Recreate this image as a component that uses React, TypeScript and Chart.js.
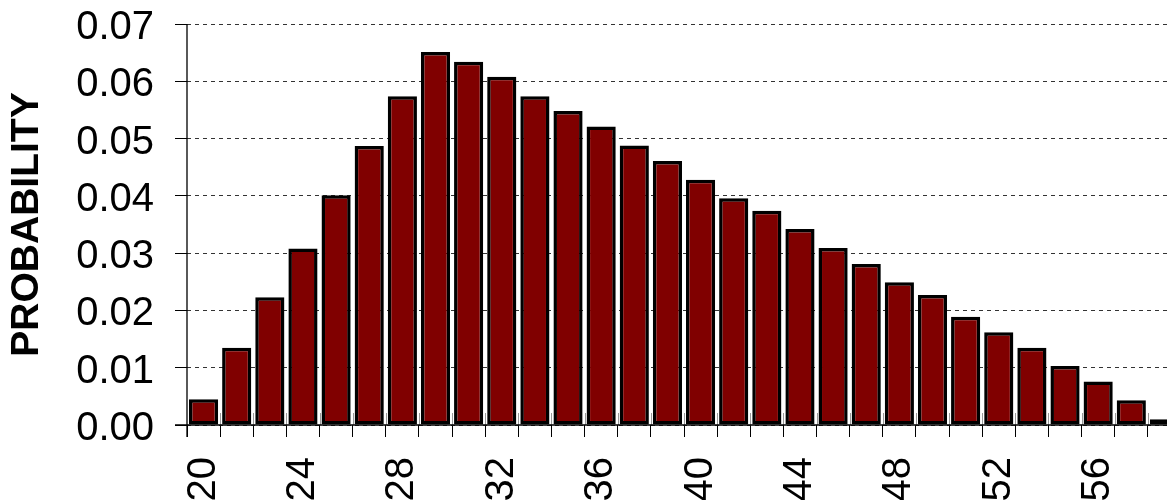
import React, { useEffect, useRef } from "react";
import { Chart, registerables } from "chart.js";

Chart.register(...registerables);

// One bar per bin; only every third bin carries a tick label.
const tickLabels: string[] = [
  "20", "", "", "24", "", "", "28", "", "", "32", "", "",
  "36", "", "", "40", "", "", "44", "", "", "48", "", "",
  "52", "", "", "56", "", "",
];

const probabilities: number[] = [
  0.0045, 0.0135, 0.0223, 0.0308, 0.0401, 0.0487, 0.0574, 0.0651, 0.0634, 0.0608,
  0.0574, 0.0548, 0.0521, 0.0488, 0.0461, 0.0428, 0.0396, 0.0374, 0.0342, 0.0309,
  0.0281, 0.0249, 0.0227, 0.0189, 0.0162, 0.0135, 0.0103, 0.0076, 0.0043, 0.0010,
];

const yAxisTitle = "PROBABILITY";
const yMin = 0;
const yMax = 0.07;
const yStep = 0.01;

const FONT = "'Liberation Sans', Arial, Helvetica, sans-serif";

const axisPlugin = {
  id: "rAxes",
  beforeDatasetsDraw(chart: any) {
    const { ctx, chartArea } = chart;
    const xs = chart.scales.x;
    const n = xs.getLabels().length;
    const half = (xs.getPixelForValue(1) - xs.getPixelForValue(0)) / 2;
    ctx.save();
    ctx.strokeStyle = "#9a9a9a";
    ctx.lineWidth = 1;
    for (let i = 1; i <= n; i++) {
      const x = Math.round(xs.getPixelForValue(i) - half) + 0.5;
      ctx.beginPath();
      ctx.moveTo(x, chartArea.bottom - 12);
      ctx.lineTo(x, chartArea.bottom);
      ctx.stroke();
    }
    ctx.restore();
  },
  afterDraw(chart: any) {
    const { ctx, chartArea } = chart;
    ctx.save();
    ctx.strokeStyle = "#000";
    ctx.lineWidth = 1.3;
    ctx.beginPath();
    ctx.moveTo(chartArea.left - 12, chartArea.bottom);
    ctx.lineTo(chartArea.right, chartArea.bottom);
    ctx.moveTo(chartArea.left, chartArea.top);
    ctx.lineTo(chartArea.left, chartArea.bottom + 12);
    ctx.stroke();
    ctx.restore();
  },
};

export default function App() {
  const ref = useRef<HTMLCanvasElement | null>(null);

  useEffect(() => {
    if (!ref.current) return;
    const chart = new Chart(ref.current, {
      type: "bar",
      data: {
        labels: tickLabels,
        datasets: [
          {
            data: probabilities,
            backgroundColor: "#800000",
            borderColor: "#000000",
            borderWidth: 3.5,
            borderSkipped: false,
            barPercentage: 0.88,
            categoryPercentage: 1,
          },
        ],
      },
      options: {
        animation: false,
        responsive: false,
        maintainAspectRatio: false,
        layout: { padding: { top: 24, left: 0, right: 0, bottom: 0 } },
        plugins: {
          legend: { display: false },
          tooltip: { enabled: false },
        },
        scales: {
          x: {
            offset: true,
            border: { display: false },
            grid: {
              display: true,
              offset: true,
              drawOnChartArea: false,
              drawTicks: true,
              tickLength: 12,
              tickColor: "#000",
              tickWidth: 1,
            },
            ticks: {
              autoSkip: false,
              maxRotation: 90,
              minRotation: 90,
              padding: 20,
              color: "#000",
              font: { family: FONT, size: 40, lineHeight: 1 },
            },
            afterFit(scale: any) {
              scale.height = 75;
              scale.paddingLeft = 0;
              scale.paddingRight = 0;
            },
          },
          y: {
            min: yMin,
            max: yMax,
            border: { display: false, dash: [4, 4] },
            grid: {
              color: "#333",
              lineWidth: 1,
              drawTicks: true,
              tickLength: 12,
              tickColor: "#000",
              tickWidth: 1,
              tickBorderDash: [],
            },
            ticks: {
              stepSize: yStep,
              padding: 21,
              color: "#000",
              labelOffset: 4,
              font: { family: FONT, size: 40, lineHeight: 1 },
              callback: (v: any) => Number(v).toFixed(2),
            },
            title: {
              display: true,
              text: yAxisTitle,
              color: "#000",
              padding: { top: 4, bottom: 0 },
              font: { family: FONT, size: 39, weight: "bold", lineHeight: 1.2 },
            },
            afterFit(scale: any) {
              scale.width = 187;
              scale.paddingTop = 0;
              scale.paddingBottom = 0;
            },
          },
        },
      },
      plugins: [axisPlugin],
    });
    return () => chart.destroy();
  }, []);

  return (
    <div
      style={{
        position: "absolute",
        left: 0,
        top: 0,
        width: 1167,
        height: 500,
        overflow: "hidden",
        background: "#fff",
      }}
    >
      <canvas ref={ref} width={1181} height={500} style={{ display: "block" }} />
    </div>
  );
}
